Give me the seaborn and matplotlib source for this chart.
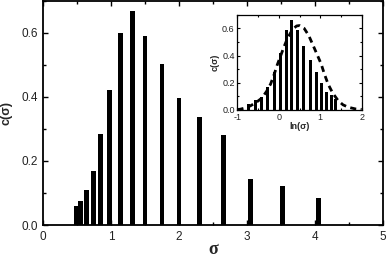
import numpy as np
import matplotlib
matplotlib.use("Agg")
import matplotlib.pyplot as plt
from matplotlib.ticker import MultipleLocator, FormatStrFormatter
import seaborn as sns

# data
sigma = [0.485, 0.55, 0.64, 0.74, 0.85, 0.98, 1.14, 1.31, 1.50, 1.75, 2.00,
         2.30, 2.65, 3.05, 3.52, 4.05]
c_sigma = [0.059, 0.075, 0.109, 0.170, 0.283, 0.422, 0.599, 0.667, 0.590,
           0.502, 0.396, 0.337, 0.281, 0.144, 0.122, 0.085]

inset_ln = [-0.74, -0.57, -0.42, -0.27, -0.11, 0.03, 0.18, 0.31, 0.44, 0.60,
            0.76, 0.91, 1.03, 1.15, 1.27, 1.37]
inset_c = [0.044, 0.070, 0.097, 0.170, 0.280, 0.420, 0.590, 0.660, 0.585,
           0.470, 0.370, 0.280, 0.200, 0.130, 0.110, 0.080]

fit_ln = [-1.0, -0.93, -0.80, -0.69, -0.55, -0.41, -0.30, -0.20, -0.12, -0.04,
          0.04, 0.12, 0.20, 0.29, 0.36, 0.43, 0.50, 0.61, 0.72, 0.82, 0.92,
          1.02, 1.10, 1.19, 1.30, 1.43, 1.55, 1.68, 1.85, 2.0]
fit_c = [0.003, 0.006, 0.016, 0.030, 0.055, 0.088, 0.135, 0.190, 0.255, 0.330,
         0.395, 0.460, 0.520, 0.570, 0.600, 0.617, 0.620, 0.600, 0.548, 0.480,
         0.410, 0.340, 0.265, 0.190, 0.125, 0.070, 0.038, 0.020, 0.008, 0.004]

sns.set_style("ticks")
plt.rcParams['font.family'] = ['Liberation Sans', 'DejaVu Sans']

fig = plt.figure(figsize=(3.88, 2.57), dpi=100)
ax = fig.add_axes([0.111, 0.1245, 0.876, 0.872])

sns.barplot(x=sigma, y=c_sigma, native_scale=True, width=1.1, color='black',
            saturation=1, errorbar=None, ax=ax, linewidth=0)
ax.set_xlim(0, 5)
ax.set_ylim(0, 0.7)
ax.xaxis.set_major_locator(MultipleLocator(1))
ax.xaxis.set_minor_locator(MultipleLocator(0.5))
ax.yaxis.set_major_locator(MultipleLocator(0.2))
ax.yaxis.set_minor_locator(MultipleLocator(0.1))
ax.xaxis.set_major_formatter(FormatStrFormatter('%d'))
ax.yaxis.set_major_formatter(FormatStrFormatter('%.1f'))
ax.tick_params(which='both', direction='in', top=True, right=True, labelsize=8.5,
               width=1, color='black', labelcolor='#222222', pad=4)
ax.tick_params(which='major', length=3.5)
ax.tick_params(which='minor', length=2)
for s in ax.spines.values():
    s.set_linewidth(1.3)
    s.set_color('black')
ax.set_xlabel('σ', family='Liberation Serif', fontweight='bold', fontsize=13)
ax.xaxis.set_label_coords(0.5, -0.129)
ax.xaxis.label.set_va('baseline')
ax.set_ylabel('c(σ)', fontweight='bold', fontsize=9, labelpad=6)

ins = fig.add_axes([0.612, 0.572, 0.320, 0.371])
sns.barplot(x=inset_ln, y=inset_c, native_scale=True, width=0.7, color='black',
            saturation=1, errorbar=None, ax=ins, linewidth=0)
sns.lineplot(x=fit_ln, y=fit_c, ax=ins, color='black', linewidth=2,
             linestyle=(0, (2.2, 1.6)))
ins.set_xlim(-1, 2)
ins.set_ylim(0, 0.7)
ins.xaxis.set_major_locator(MultipleLocator(1))
ins.xaxis.set_minor_locator(MultipleLocator(0.5))
ins.yaxis.set_major_locator(MultipleLocator(0.2))
ins.yaxis.set_minor_locator(MultipleLocator(0.1))
ins.xaxis.set_major_formatter(FormatStrFormatter('%d'))
ins.yaxis.set_major_formatter(FormatStrFormatter('%.1f'))
ins.tick_params(which='both', direction='in', top=True, right=True, labelsize=6.5,
                width=0.8, color='black', labelcolor='#222222', pad=2)
ins.tick_params(which='major', length=2.5)
ins.tick_params(which='minor', length=1.5)
for s in ins.spines.values():
    s.set_linewidth(0.9)
    s.set_color('black')
ins.set_xlabel('ln(σ)', fontweight='bold', fontsize=6.5, labelpad=0)
ins.set_ylabel('c(σ)', fontweight='bold', fontsize=6.5, labelpad=2)

fig.savefig('out.png', dpi=100)
